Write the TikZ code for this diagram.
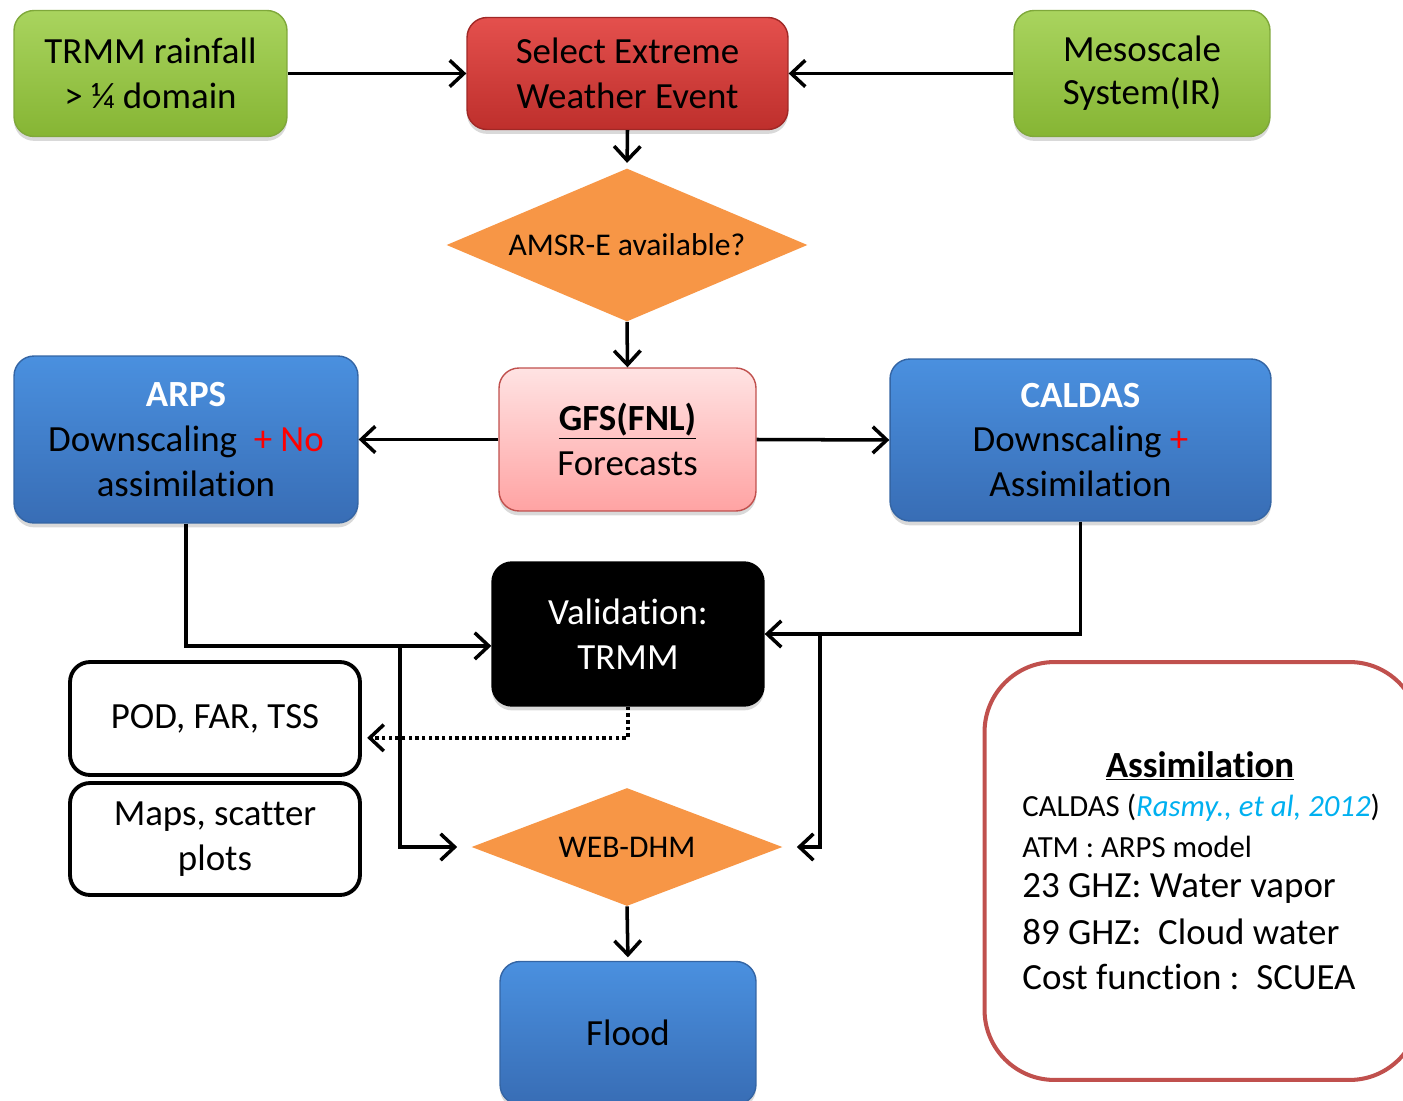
\documentclass[tikz,border=0pt]{standalone}
\usepackage{fontspec}
\setmainfont{Carlito}[Ligatures={NoCommon}]
\usetikzlibrary{shapes.geometric,arrows.meta,shadows}

\definecolor{greentop}{HTML}{A9D45E}
\definecolor{greenbot}{HTML}{86B534}
\definecolor{greenline}{HTML}{7FA83A}
\definecolor{redtop}{HTML}{E4504D}
\definecolor{redbot}{HTML}{BE2F2C}
\definecolor{redline}{HTML}{A02826}
\definecolor{pinktop}{HTML}{FFE3E3}
\definecolor{pinkbot}{HTML}{FFA3A3}
\definecolor{pinkline}{HTML}{C0504D}
\definecolor{bluetop}{HTML}{4A90DF}
\definecolor{bluebot}{HTML}{386DB5}
\definecolor{blueline}{HTML}{3465A4}
\definecolor{decision}{HTML}{F79646}
\definecolor{citeblue}{HTML}{00B0F0}

\begin{document}
\begin{tikzpicture}[x=0.02cm, y=-0.02cm,
    every node/.style={font=\fontsize{21}{25.5}\selectfont, align=center, inner sep=0pt},
    box/.style={rounded corners=0.4cm, line width=0.8pt,
        drop shadow={opacity=0.3, shadow xshift=0pt, shadow yshift=-2.5pt}},
    greenbox/.style={box, draw=greenline, top color=greentop, bottom color=greenbot},
    bluebox/.style={box, draw=blueline, top color=bluetop, bottom color=bluebot},
    outbox/.style={rounded corners=0.4cm, draw=black, line width=2.2pt, fill=white,
        minimum width=5.8cm},
    decide/.style={diamond, fill=decision, font=\fontsize{18}{21}\selectfont},
    flow/.style={line width=2pt, -{Straight Barb[length=8pt,width=15pt]}},
]
    \useasboundingbox (0,0) rectangle (1403,1101);

    % Auswahl des Ereignisses
    \node[greenbox, minimum width=5.46cm, minimum height=2.52cm] (trmm) at (150.5,73.5)
        {TRMM rainfall\\> ¼ domain};
    \node[box, draw=redline, top color=redtop, bottom color=redbot,
        minimum width=6.42cm, minimum height=2.24cm] (select) at (627.5,73.5)
        {Select Extreme\\Weather Event};
    \node[greenbox, minimum width=5.12cm, minimum height=2.52cm] (meso) at (1142,73.5)
        {Mesoscale\\[-1pt]System(IR)};
    \node[decide, aspect=2.36, minimum width=7.22cm, minimum height=3.06cm] (amsr) at (627,245)
        {AMSR-E available?};

    % Modelllaeufe
    \node[box, draw=pinkline, top color=pinktop, bottom color=pinkbot,
        minimum width=5.14cm, minimum height=2.86cm] (gfs) at (627.5,439.5)
        {\underline{\textbf{GFS(FNL)}}\\Forecasts};
    \node[bluebox, minimum width=6.88cm, minimum height=3.34cm] (arps) at (186,439.5)
        {\textcolor{white}{\textbf{ARPS}}\\Downscaling \ \textcolor{red}{+ No}\\assimilation};
    \node[bluebox, minimum width=7.62cm, minimum height=3.24cm] (caldas) at (1080.5,440)
        {\textcolor{white}{\textbf{CALDAS}}\\Downscaling \textcolor{red}{+}\\Assimilation};

    % Validierung und Abfluss
    \node[box, draw=black, fill=black, text=white,
        minimum width=5.44cm, minimum height=2.88cm] (valid) at (628,634)
        {Validation:\\TRMM};
    \node[outbox, minimum height=2.26cm] (pod) at (215,718.5) {POD, FAR, TSS};
    \node[outbox, minimum height=2.24cm] (maps) at (215,839) {Maps, scatter\\plots};
    \node[decide, aspect=2.64, minimum width=6.22cm, minimum height=2.36cm] (webdhm) at (627,847)
        {WEB-DHM};
    \node[bluebox, minimum width=5.12cm, minimum height=2.86cm] (flood) at (628,1033)
        {Flood};

    % Kasten rechts unten
    \node[draw=pinkline, line width=2.3pt, fill=white, rounded corners=1.4cm,
        minimum width=8.7cm, minimum height=8.36cm] (assim) at (1202,871) {};
    \node (atitle) at (1200,766) {\underline{\textbf{Assimilation}}};
    \node[anchor=west, font=\fontsize{17.5}{20}\selectfont] (aone) at (1022,808)
        {CALDAS (\textcolor{citeblue}{\itshape Rasmy., et al, 2012})};
    \node[anchor=west, font=\fontsize{17.5}{20}\selectfont] (atwo) at (1022,847)
        {ATM : ARPS model};
    \node[anchor=west, font=\fontsize{21}{24}\selectfont] (athree) at (1022,888)
        {23 GHZ: Water vapor};
    \node[anchor=west, font=\fontsize{21}{24}\selectfont] (afour) at (1022,932)
        {89 GHZ:\ \ Cloud water};
    \node[anchor=west, font=\fontsize{21}{24}\selectfont] (afive) at (1022,977)
        {Cost function :\ \ SCUEA};

    % Verbindungen
    \draw[flow] (trmm.east) -- (select.west);
    \draw[flow] (meso.west) -- (select.east);
    \draw[flow, shorten >=3pt] (select.south) -- (amsr.north);
    \draw[flow] (amsr.south) -- (gfs.north);
    \draw[flow] (gfs.west) -- (arps.east);
    \draw[flow] (gfs.east) -- (caldas.west);

    \draw[flow] (arps.south) |- ([yshift=-6.8pt]valid.west);
    \coordinate (lsplit) at (400,646);
    \draw[flow, shorten >=0.28cm] (lsplit) |- (webdhm.west);

    \draw[flow] (caldas.south) |- (valid.east);
    \coordinate (rsplit) at (820,633);
    \draw[flow, shorten >=0.28cm] (rsplit) |- (webdhm.east);

    \draw[flow, dash pattern=on 2pt off 1.8pt, shorten >=3pt] (valid.south) |- ([yshift=-11pt]pod.east);
    \draw[flow, shorten >=2pt] (webdhm.south) -- (flood.north);
\end{tikzpicture}
\end{document}
